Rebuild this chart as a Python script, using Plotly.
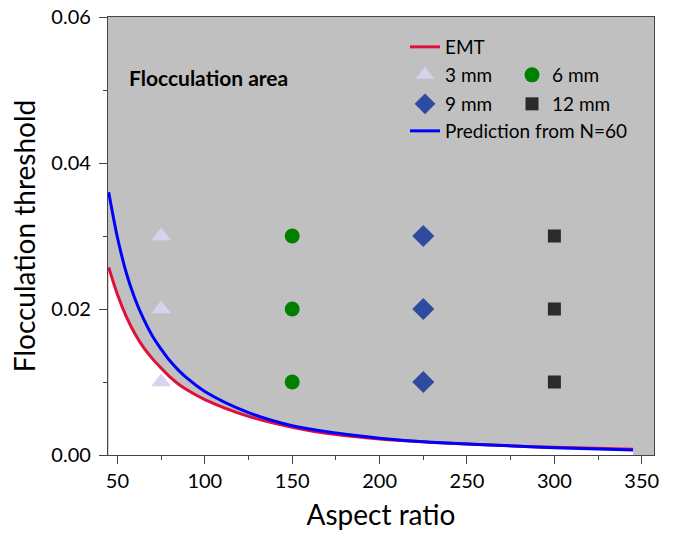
import plotly.graph_objects as go

# ---- data ----
x_curve = [45, 50, 55, 60, 65, 70, 75, 80, 85, 90, 100, 125, 150, 175, 200, 225, 250, 280, 300, 345]
emt = [0.0257, 0.0220, 0.0190, 0.0166, 0.0147, 0.0132, 0.0119, 0.0107, 0.0097, 0.0089, 0.0076,
       0.0053, 0.0038, 0.0028, 0.0022, 0.0018, 0.0015, 0.0012, 0.00105, 0.0008]
pred_n60 = [0.0360, 0.0298, 0.0250, 0.0214, 0.0186, 0.0163, 0.0145, 0.0129, 0.0116, 0.0105, 0.0087,
            0.0058, 0.0040, 0.0030, 0.0023, 0.0018, 0.0015, 0.0012, 0.0010, 0.0007]

series_names = ["3 mm", "6 mm", "9 mm", "12 mm"]
series_x = [75, 150, 225, 300]
series_y = [0.01, 0.02, 0.03]

x_range = [44.6, 357]
y_range = [0, 0.06]
x_ticks = [50, 100, 150, 200, 250, 300, 350]
y_ticks = [0.00, 0.02, 0.04, 0.06]

FONT = "Lato"
W, H = 681, 547
OFF = 0  # page body margin removed by post_script below
L, R, T, B = 108, 27, 17, 92

fig = go.Figure()

# area below the EMT curve is white; the rest of the plot is the grey flocculation area
fig.add_trace(go.Scatter(x=x_curve, y=emt, mode="lines", fill="tozeroy",
                         fillcolor="#ffffff", line=dict(width=0, shape="spline"),
                         showlegend=False, hoverinfo="skip"))

fig.add_trace(go.Scatter(x=x_curve, y=emt, mode="lines", name="EMT",
                         line=dict(color="#e0103a", width=3, shape="spline"),
                         legend="legend"))

styles = [
    dict(symbol="triangle-up", color="#d4d4ec", size=17),
    dict(symbol="circle", color="#008000", size=15),
    dict(symbol="diamond", color="#2f4b9f", size=17),
    dict(symbol="square", color="#2b2b2b", size=13),
]
legends = ["legend2", "legend3", "legend4", "legend5"]
for name, xv, st, lg in zip(series_names, series_x, styles, legends):
    fig.add_trace(go.Scatter(x=[xv] * len(series_y), y=series_y, mode="markers", name=name,
                             marker=dict(symbol=st["symbol"], color=st["color"], size=st["size"],
                                         line=dict(width=0)),
                             legend=lg))

fig.add_trace(go.Scatter(x=x_curve, y=pred_n60, mode="lines", name="Prediction from N=60",
                         line=dict(color="#0000ff", width=3, shape="spline"),
                         legend="legend6"))

pw = W - L - R
ph = H - T - B


def px2paper(px, py):
    # px, py are page pixel positions
    return (px - OFF - L) / pw, (H - B - (py - OFF)) / ph


leg_font = dict(family=FONT, size=19, color="#000000")


def leg(px, py):
    x, y = px2paper(px, py)
    return dict(x=x, y=y, xanchor="left", yanchor="middle", bgcolor="rgba(0,0,0,0)",
                font=leg_font, borderwidth=0, itemwidth=30, tracegroupgap=0)


fig.update_layout(
    width=W, height=H,
    margin=dict(l=L, r=R, t=T, b=B, pad=0, autoexpand=False),
    paper_bgcolor="white", plot_bgcolor="#c0c0c0",
    font=dict(family=FONT, size=20, color="#000000"),
    legend=leg(405, 47),
    legend2=leg(405, 75),
    legend3=leg(512, 75),
    legend4=leg(405, 104),
    legend5=leg(512, 104),
    legend6=leg(405, 131),
    xaxis=dict(range=x_range, tickvals=x_ticks, ticks="outside", ticklen=8, tickwidth=1.3,
               tickcolor="#444", showline=True, linecolor="#444", linewidth=1.3, mirror=True,
               showgrid=False, zeroline=False, automargin=False, ticklabeloverflow="allow",
               minor=dict(ticks="outside", ticklen=4, tickwidth=1.3, tickcolor="#444",
                          dtick=25, tick0=25, showgrid=False),
               title=dict(text="Aspect ratio", font=dict(family=FONT, size=28), standoff=14),
               tickfont=dict(family=FONT, size=20)),
    yaxis=dict(range=y_range, tickvals=y_ticks, tickformat=".2f", ticks="outside", ticklen=8,
               tickwidth=1.3, tickcolor="#444", showline=True, linecolor="#444", linewidth=1.3,
               mirror=True, showgrid=False, zeroline=False, automargin=False,
               ticklabelstandoff=4, ticklabeloverflow="allow",
               minor=dict(ticks="outside", ticklen=4, tickwidth=1.3, tickcolor="#444",
                          dtick=0.01, tick0=0.01, showgrid=False),
               title=dict(text="Flocculation threshold", font=dict(family=FONT, size=28),
                          standoff=7),
               tickfont=dict(family=FONT, size=20)),
)

ax, ay = px2paper(127, 78)
fig.add_annotation(x=ax, y=ay, xref="paper", yref="paper", xanchor="left", yanchor="middle",
                   text="<b>Flocculation area</b>", showarrow=False,
                   font=dict(family=FONT, size=21, color="#000000"))

fig.write_html("out.html", config={"displayModeBar": False},
               post_script="document.body.style.margin='0';")
